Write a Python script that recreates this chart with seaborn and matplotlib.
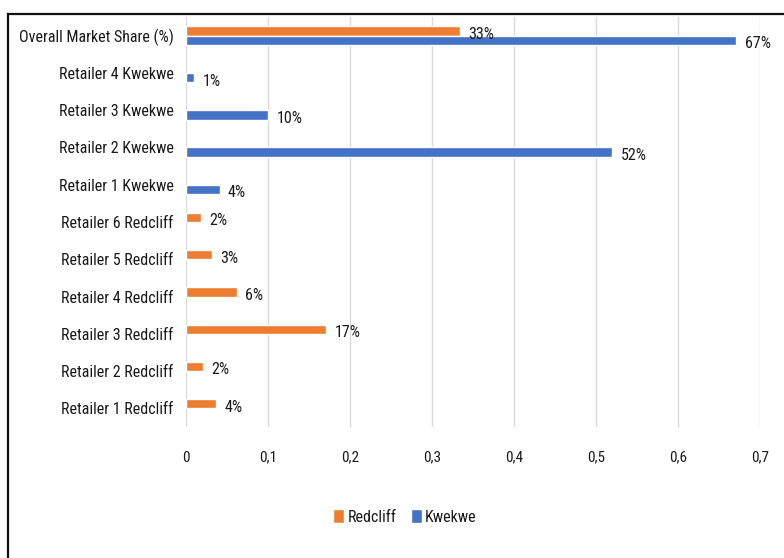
import matplotlib
matplotlib.use("Agg")
import matplotlib.pyplot as plt
from matplotlib import font_manager
from matplotlib.patches import Rectangle
import seaborn as sns
import pandas as pd

categories = ["Overall Market Share (%)", "Retailer 4 Kwekwe", "Retailer 3 Kwekwe",
              "Retailer 2 Kwekwe", "Retailer 1 Kwekwe", "Retailer 6 Redcliff",
              "Retailer 5 Redcliff", "Retailer 4 Redcliff", "Retailer 3 Redcliff",
              "Retailer 2 Redcliff", "Retailer 1 Redcliff"]
redcliff_cats = ["Overall Market Share (%)", "Retailer 6 Redcliff", "Retailer 5 Redcliff",
                 "Retailer 4 Redcliff", "Retailer 3 Redcliff", "Retailer 2 Redcliff",
                 "Retailer 1 Redcliff"]
redcliff_vals = [0.334, 0.018, 0.032, 0.062, 0.171, 0.021, 0.037]
kwekwe_cats = ["Overall Market Share (%)", "Retailer 4 Kwekwe", "Retailer 3 Kwekwe",
               "Retailer 2 Kwekwe", "Retailer 1 Kwekwe"]
kwekwe_vals = [0.671, 0.010, 0.100, 0.520, 0.041]
series = ["Redcliff", "Kwekwe"]
colors = ["#ED7D31", "#4472C4"]
xticks = [0, 0.1, 0.2, 0.3, 0.4, 0.5, 0.6, 0.7]
xticklabels = ["0", "0,1", "0,2", "0,3", "0,4", "0,5", "0,6", "0,7"]

df = pd.concat([
    pd.DataFrame({"cat": redcliff_cats, "series": "Redcliff", "value": redcliff_vals}),
    pd.DataFrame({"cat": kwekwe_cats, "series": "Kwekwe", "value": kwekwe_vals}),
], ignore_index=True)

sns.set_style("white")

# look for a condensed / narrow face
cond = None
for f in font_manager.fontManager.ttflist:
    n = (f.name + " " + f.fname).lower()
    if ("narrow" in n or "condensed" in n or f.stretch in ("condensed", "semi-condensed")) \
            and f.style == "normal" and f.weight in (400, "normal", "regular"):
        if cond is None or "liberation" in n or "roboto" in n or "noto" in n:
            cond = f
if cond is not None:
    plt.rcParams["font.family"] = [cond.name, "DejaVu Sans"]
    plt.rcParams["font.stretch"] = cond.stretch
    base = 11.5
else:
    plt.rcParams["font.family"] = ["Roboto", "DejaVu Sans"]
    base = 10
txt = "#1a1a1a"

fig = plt.figure(figsize=(7.84, 5.58), dpi=100)
ax = fig.add_axes([186/784, 1 - 427/558, 574/784, 410/558])

sns.barplot(data=df, y="cat", x="value", hue="series", order=categories,
            hue_order=series, palette=colors, width=0.5, dodge=True,
            orient="h", ax=ax, legend=True, saturation=1, errorbar=None)

for c in ax.containers:
    anns = ax.bar_label(c, labels=[f"{v*100:.0f}%" for v in c.datavalues], padding=6,
                        fontsize=base, color=txt)
    for a in anns:
        a.xyann = (6, -2.5)

ax.set_xlim(0, 0.7)
ax.set_ylim(10.5, -0.5)
ax.set_xticks(xticks)
ax.set_xticklabels(xticklabels)
ax.set_xlabel("")
ax.set_ylabel("")
ax.grid(axis="x", color="#d9d9d9", linewidth=1)
ax.set_axisbelow(True)
for s in ax.spines.values():
    s.set_visible(False)
ax.tick_params(axis="x", length=0, pad=17, labelsize=base - 0.5, labelcolor=txt)
ax.tick_params(axis="y", length=0, pad=9, labelsize=base, labelcolor=txt)

handles, labels = ax.get_legend_handles_labels()
ax.legend_.remove()
fig.legend(handles, labels, loc="center", bbox_to_anchor=(405/784, 1 - 517/558),
           ncol=2, frameon=False, fontsize=base, handlelength=0.7, handleheight=0.9,
           handletextpad=0.2, columnspacing=0.9, labelcolor=txt)

fig.patches.append(Rectangle((8/784, -0.2), 1.2, 1 - 14/558 + 0.2, transform=fig.transFigure,
                             fill=False, edgecolor="#111111", linewidth=1.6))

fig.savefig("out.png", dpi=100)
